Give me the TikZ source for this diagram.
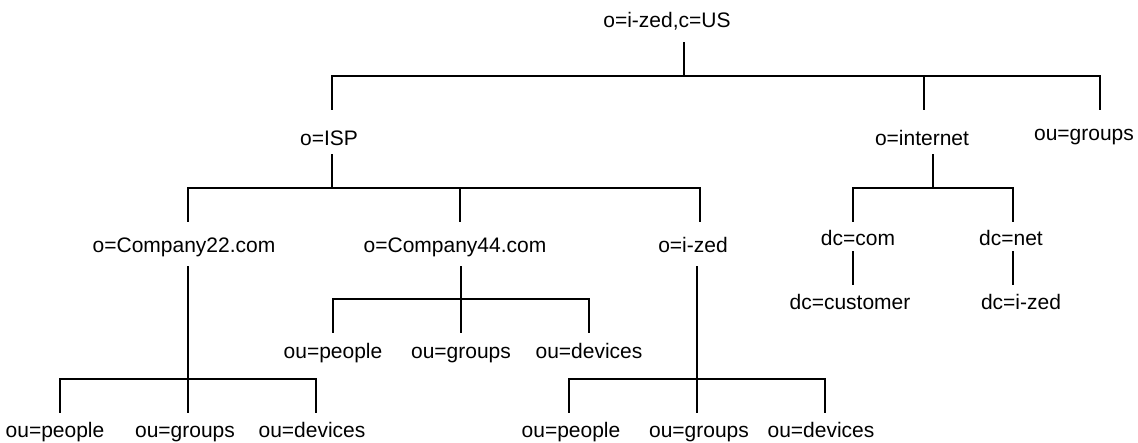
\documentclass[tikz,border=0pt]{standalone}
\usepackage{fontspec}
\setmainfont{Liberation Sans}
\begin{document}
\begin{tikzpicture}[x=1pt,y=1pt,
  lbl/.style={inner sep=0pt, text height=15pt, text depth=4.5pt, anchor=center,
    font=\fontsize{21}{25}\selectfont},
  conn/.style={line width=2pt, line cap=rect}]
\useasboundingbox (0,0) rectangle (1138,443);
\fill[white] (0,0) rectangle (1138,443);
% labels
\node[lbl] (root) at (667,421) {o=i-zed,c=US};
\node[lbl] (isp) at (329,303) {o=ISP};
\node[lbl] (inet) at (922,303) {o=internet};
\node[lbl] (grp) at (1084,308) {ou=groups};
\node[lbl] (c22) at (184,196) {o=Company22.com};
\node[lbl] (c44) at (455,196) {o=Company44.com};
\node[lbl] (ized) at (693,196) {o=i-zed};
\node[lbl] (dccom) at (858,203) {dc=com};
\node[lbl] (dcnet) at (1011,203) {dc=net};
\node[lbl] (dccust) at (850,139) {dc=customer};
\node[lbl] (dcized) at (1021,139) {dc=i-zed};
\node[lbl] (p44) at (333,90) {ou=people};
\node[lbl] (g44) at (461,90) {ou=groups};
\node[lbl] (d44) at (589,90) {ou=devices};
\node[lbl] (p22) at (55,11) {ou=people};
\node[lbl] (g22) at (185,11) {ou=groups};
\node[lbl] (d22) at (312,11) {ou=devices};
\node[lbl] (pz) at (571,11) {ou=people};
\node[lbl] (gz) at (699,11) {ou=groups};
\node[lbl] (dz) at (821,11) {ou=devices};
% connector end points
\coordinate (root-b) at (684,400);
\coordinate (root-j) at (684,367);
\coordinate (isp-t) at (332,334);
\coordinate (inet-t) at (924,334);
\coordinate (grp-t) at (1100,334);
\coordinate (isp-b) at (332,288);
\coordinate (isp-j) at (332,255);
\coordinate (c22-t) at (188,222);
\coordinate (c44-t) at (460,222);
\coordinate (ized-t) at (700,222);
\coordinate (c22-b) at (188,176);
\coordinate (c22-j) at (188,64);
\coordinate (p22-t) at (60,31);
\coordinate (g22-t) at (188,31);
\coordinate (d22-t) at (316,31);
\coordinate (c44-b) at (461,176);
\coordinate (c44-j) at (461,144);
\coordinate (p44-t) at (333,111);
\coordinate (g44-t) at (461,111);
\coordinate (d44-t) at (589,111);
\coordinate (ized-b) at (697,176);
\coordinate (ized-j) at (697,64);
\coordinate (pz-t) at (569,31);
\coordinate (gz-t) at (697,31);
\coordinate (dz-t) at (825,31);
\coordinate (inet-b) at (933,288);
\coordinate (inet-j) at (933,255);
\coordinate (dccom-t) at (853,222);
\coordinate (dcnet-t) at (1013,222);
\coordinate (dccom-b) at (853,191);
\coordinate (dccust-t) at (853,159);
\coordinate (dcnet-b) at (1013,191);
\coordinate (dcized-t) at (1013,159);
% connectors
\draw[conn] (root-b) -- (root-j);
\draw[conn] (isp-t) |- (root-j) -| (grp-t);
\draw[conn] (inet-t) -- (inet-t |- root-j);
\draw[conn] (isp-b) -- (isp-j);
\draw[conn] (c22-t) |- (isp-j) -| (ized-t);
\draw[conn] (c44-t) -- (c44-t |- isp-j);
\draw[conn] (c22-b) -- (g22-t);
\draw[conn] (p22-t) |- (c22-j) -| (d22-t);
\draw[conn] (c44-b) -- (g44-t);
\draw[conn] (p44-t) |- (c44-j) -| (d44-t);
\draw[conn] (ized-b) -- (gz-t);
\draw[conn] (pz-t) |- (ized-j) -| (dz-t);
\draw[conn] (inet-b) -- (inet-j);
\draw[conn] (dccom-t) |- (inet-j) -| (dcnet-t);
\draw[conn] (dccom-b) -- (dccust-t);
\draw[conn] (dcnet-b) -- (dcized-t);
\end{tikzpicture}
\end{document}
